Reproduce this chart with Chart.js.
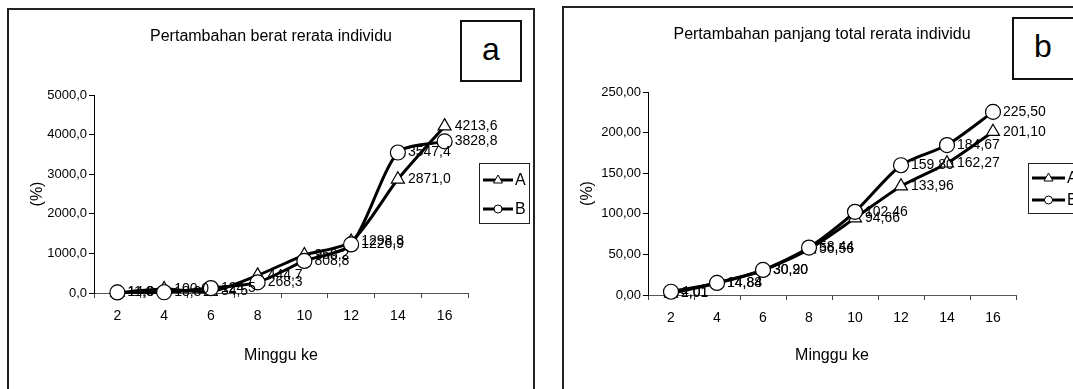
<!DOCTYPE html>
<html>
<head>
<meta charset="utf-8">
<script src="https://cdn.jsdelivr.net/npm/chart.js@4.4.1/dist/chart.umd.min.js"></script>
<style>
  html, body { margin: 0; padding: 0; background: #fff; width: 1073px; height: 389px; overflow: hidden; }
  .panel { position: absolute; border: 2px solid #222; border-bottom: none; }
  #panelA { left: 7px; top: 8px; width: 524px; height: 400px; }
  #panelB { left: 562px; top: 6px; width: 540px; height: 400px; }
  .tag { position: absolute; border: 2px solid #111; background: #fff; box-sizing: border-box;
         font-family: "Liberation Sans", Arial, sans-serif; font-size: 32px; text-align: center; line-height: 54px; }
  #tagA { left: 460px; top: 20px; width: 62px; height: 62px; }
  #tagB { left: 1012px; top: 17px; width: 80px; height: 63px; padding-right: 18px; }
  canvas { position: absolute; top: 0; }
  #chartA { left: 0; }
  #chartB { left: 540px; }
</style>
</head>
<body>
<div class="panel" id="panelA"></div>
<div class="panel" id="panelB"></div>
<div class="tag" id="tagA">a</div>
<div class="tag" id="tagB">b</div>
<canvas id="chartA" width="540" height="389"></canvas>
<canvas id="chartB" width="533" height="389"></canvas>
<script>
// weeks
const weeks = ["2", "4", "6", "8", "10", "12", "14", "16"];

// panel a: weight gain (%)
const weightA = [11.0, 100.0, 34.5, 444.7, 958.2, 1298.8, 2871.0, 4213.6];
const weightB = [14.0, 18.8, 124.5, 268.3, 808.8, 1226.9, 3547.4, 3828.8];

// panel b: total length gain (%)
const lengthA = [2.01, 14.84, 30.20, 56.56, 94.66, 133.96, 162.27, 201.10];
const lengthB = [4.01, 14.88, 30.90, 58.44, 102.46, 159.80, 184.67, 225.50];

const FONT = '"Liberation Sans", Arial, sans-serif';
const INK = "#000";

function fmt(v, dec) {
  return v.toFixed(dec).replace(".", ",");
}

// value labels right of each point + title + framed legend
const decorPlugin = {
  id: "decor",
  afterDatasetsDraw(chart, args, opts) {
    const ctx = chart.ctx;
    ctx.save();
    ctx.fillStyle = INK;
    ctx.font = `14px ${FONT}`;
    ctx.textBaseline = "middle";
    ctx.textAlign = "left";
    chart.data.datasets.forEach((ds, i) => {
      const meta = chart.getDatasetMeta(i);
      meta.data.forEach((pt, j) => {
        ctx.fillText(fmt(ds.data[j], opts.decimals), pt.x + 10, pt.y);
      });
    });

    // title
    ctx.font = `16px ${FONT}`;
    ctx.textAlign = "center";
    ctx.fillText(opts.title, opts.titleX, opts.titleY);

    // legend
    const lg = opts.legend;
    ctx.fillStyle = "#fff";
    ctx.fillRect(lg.x, lg.y, lg.w, lg.h);
    ctx.strokeStyle = "#222";
    ctx.lineWidth = 1;
    ctx.strokeRect(lg.x + 0.5, lg.y + 0.5, lg.w, lg.h);
    chart.data.datasets.forEach((ds, i) => {
      const y = lg.rows[i];
      ctx.strokeStyle = INK;
      ctx.lineWidth = 3;
      ctx.beginPath();
      ctx.moveTo(lg.lineX0, y);
      ctx.lineTo(lg.lineX1, y);
      ctx.stroke();
      const cx = (lg.lineX0 + lg.lineX1) / 2;
      ctx.lineWidth = 1;
      ctx.fillStyle = "#fff";
      ctx.beginPath();
      if (ds.pointStyle === "triangle") {
        ctx.moveTo(cx, y - 5);
        ctx.lineTo(cx + 4.5, y + 3);
        ctx.lineTo(cx - 4.5, y + 3);
        ctx.closePath();
      } else {
        ctx.arc(cx, y, 4, 0, Math.PI * 2);
      }
      ctx.fill();
      ctx.stroke();
      ctx.fillStyle = INK;
      ctx.font = `16px ${FONT}`;
      ctx.textAlign = "left";
      ctx.fillText(ds.label, lg.lineX1 + 2, y + 1);
    });
    ctx.restore();
  },
};

function series(label, data, style) {
  return {
    label,
    data,
    pointStyle: style,
    borderColor: INK,
    backgroundColor: "#fff",
    pointBackgroundColor: "#fff",
    pointBorderColor: INK,
    pointBorderWidth: 1.2,
    pointRadius: 7.5,
    borderWidth: 3,
    tension: 0.25,
    clip: false,
    order: style === "circle" ? 1 : 2,
  };
}

function makeChart(id, cfg) {
  return new Chart(document.getElementById(id), {
    type: "line",
    data: {
      labels: weeks,
      datasets: [series("A", cfg.a, "triangle"), series("B", cfg.b, "circle")],
    },
    options: {
      responsive: false,
      animation: false,
      events: [],
      layout: { padding: { top: cfg.top, right: cfg.right, bottom: 0, left: 0 } },
      plugins: {
        legend: { display: false },
        tooltip: { enabled: false },
        decor: cfg.decor,
      },
      scales: {
        x: {
          offset: true,
          afterFit(scale) { scale.height = cfg.xHeight; },
          grid: { offset: true, drawOnChartArea: false, drawTicks: true, tickLength: 5, color: "#444" },
          border: { display: true, color: "#555", width: 1 },
          ticks: { color: INK, padding: 10, font: { family: FONT, size: 14 } },
          title: {
            display: true,
            text: "Minggu ke",
            color: INK,
            font: { family: FONT, size: 16 },
            padding: { top: 0, bottom: 24 },
          },
        },
        y: {
          min: 0,
          max: cfg.max,
          afterFit(scale) { scale.width = cfg.yWidth; },
          grid: { drawOnChartArea: false, drawTicks: true, tickLength: 5, color: INK },
          border: { display: true, color: INK, width: 1 },
          ticks: {
            stepSize: cfg.step,
            color: INK,
            padding: 2,
            font: { family: FONT, size: 13 },
            callback: (v) => fmt(v, cfg.decor.decimals),
          },
          title: {
            display: true,
            text: "(%)",
            color: INK,
            font: { family: FONT, size: 16 },
            padding: { top: cfg.yTitlePad, bottom: 0 },
          },
        },
      },
    },
    plugins: [decorPlugin],
  });
}

makeChart("chartA", {
  a: weightA,
  b: weightB,
  max: 5000,
  step: 1000,
  top: 95,
  right: 72,
  xHeight: 96,
  yWidth: 94,
  yTitlePad: 28,
  decor: {
    decimals: 1,
    title: "Pertambahan berat rerata individu",
    titleX: 271,
    titleY: 37,
    legend: { x: 479, y: 163, w: 50, h: 60, rows: [180, 209], lineX0: 483, lineX1: 513 },
  },
});

makeChart("chartB", {
  a: lengthA,
  b: lengthB,
  max: 250,
  step: 50,
  top: 92,
  right: 57,
  xHeight: 94,
  yWidth: 108,
  yTitlePad: 38,
  decor: {
    decimals: 2,
    title: "Pertambahan panjang total rerata individu",
    titleX: 282,
    titleY: 35,
    legend: { x: 488, y: 163, w: 80, h: 50, rows: [178, 200], lineX0: 492, lineX1: 525 },
  },
});
</script>
</body>
</html>
